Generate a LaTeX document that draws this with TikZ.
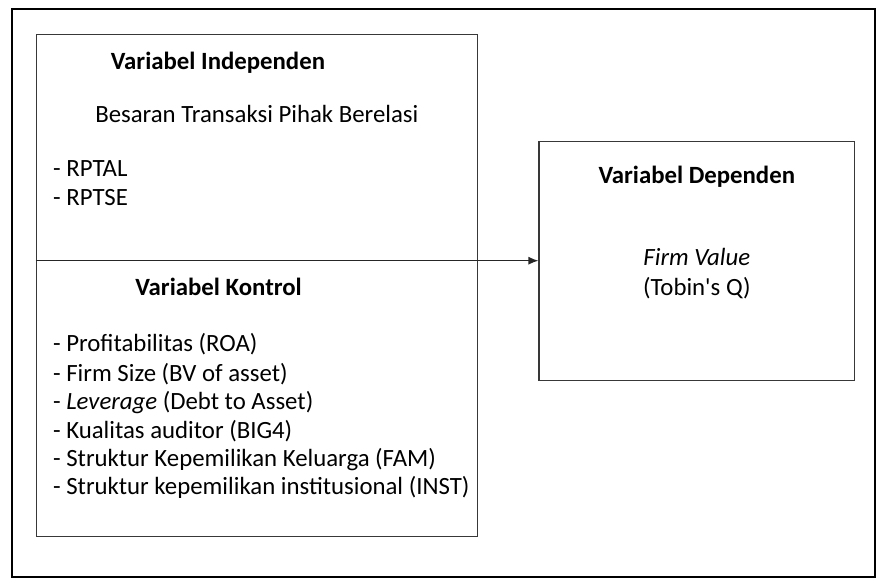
\documentclass[tikz,border=0pt]{standalone}
\usepackage{fontspec}
\setmainfont{Carlito}
\usetikzlibrary{arrows.meta}
\begin{document}
\begin{tikzpicture}[x=0.98pt,y=-0.98pt,
  box/.style={draw=black!78, line width=1.2pt, minimum width=#1, inner sep=0pt},
  txt/.style={anchor=base west, inner sep=0pt, font=\fontsize{24.8}{30}\selectfont},
  ctxt/.style={anchor=base, inner sep=0pt, font=\fontsize{24.8}{30}\selectfont},
  frame/.style={line width=2.3pt, black}]
\useasboundingbox (0,0) rectangle (903,597);
% outer frame
\coordinate (f0) at (12,9);
\coordinate (f1) at (893,589);
\draw[frame] (f0) rectangle (f1);
% boxes (450 x 512 and 322 x 244 in picture units)
\node[box=441pt, minimum height=501.8pt] (L) at (262,291) {};
\node[box=315.6pt, minimum height=239.1pt] (R) at (711,266) {};
% divider + arrow
\draw[draw=black!85, line width=1.2pt, -{Latex[length=10pt,width=8pt]}] (L.west |- R.west) -- (R.west);
% left texts
\node[txt, font=\fontsize{24.8}{30}\selectfont\bfseries] (t1) at (113,71) {Variabel Independen};
\node[txt] (t2) at (97,125) {Besaran Transaksi Pihak Berelasi};
\node[txt] (t3) at (54,180) {- RPTAL};
\node[txt] (t4) at (54,210) {- RPTSE};
\node[txt, font=\fontsize{24.8}{30}\selectfont\bfseries] (k0) at (138,301) {Variabel Kontrol};
\node[txt] (k1) at (54,359) {- Profitabilitas (ROA)};
\node[txt] (k2) at (54,389) {- Firm Size (BV of asset)};
\node[txt] (k3) at (54,418) {- \textit{Leverage} (Debt to Asset)};
\node[txt] (k4) at (54,447) {- Kualitas auditor (BIG4)};
\node[txt] (k5) at (54,476) {- Struktur Kepemilikan Keluarga (FAM)};
\node[txt] (k6) at (54,505) {- Struktur kepemilikan institusional (INST)};
% right texts
\node[ctxt, font=\fontsize{24.8}{30}\selectfont\bfseries] (d0) at (711,187) {Variabel Dependen};
\node[ctxt] (d1) at (711,271) {\textit{Firm Value}};
\node[ctxt] (d2) at (711,301) {(Tobin\textquotesingle s Q)};
\end{tikzpicture}
\end{document}
